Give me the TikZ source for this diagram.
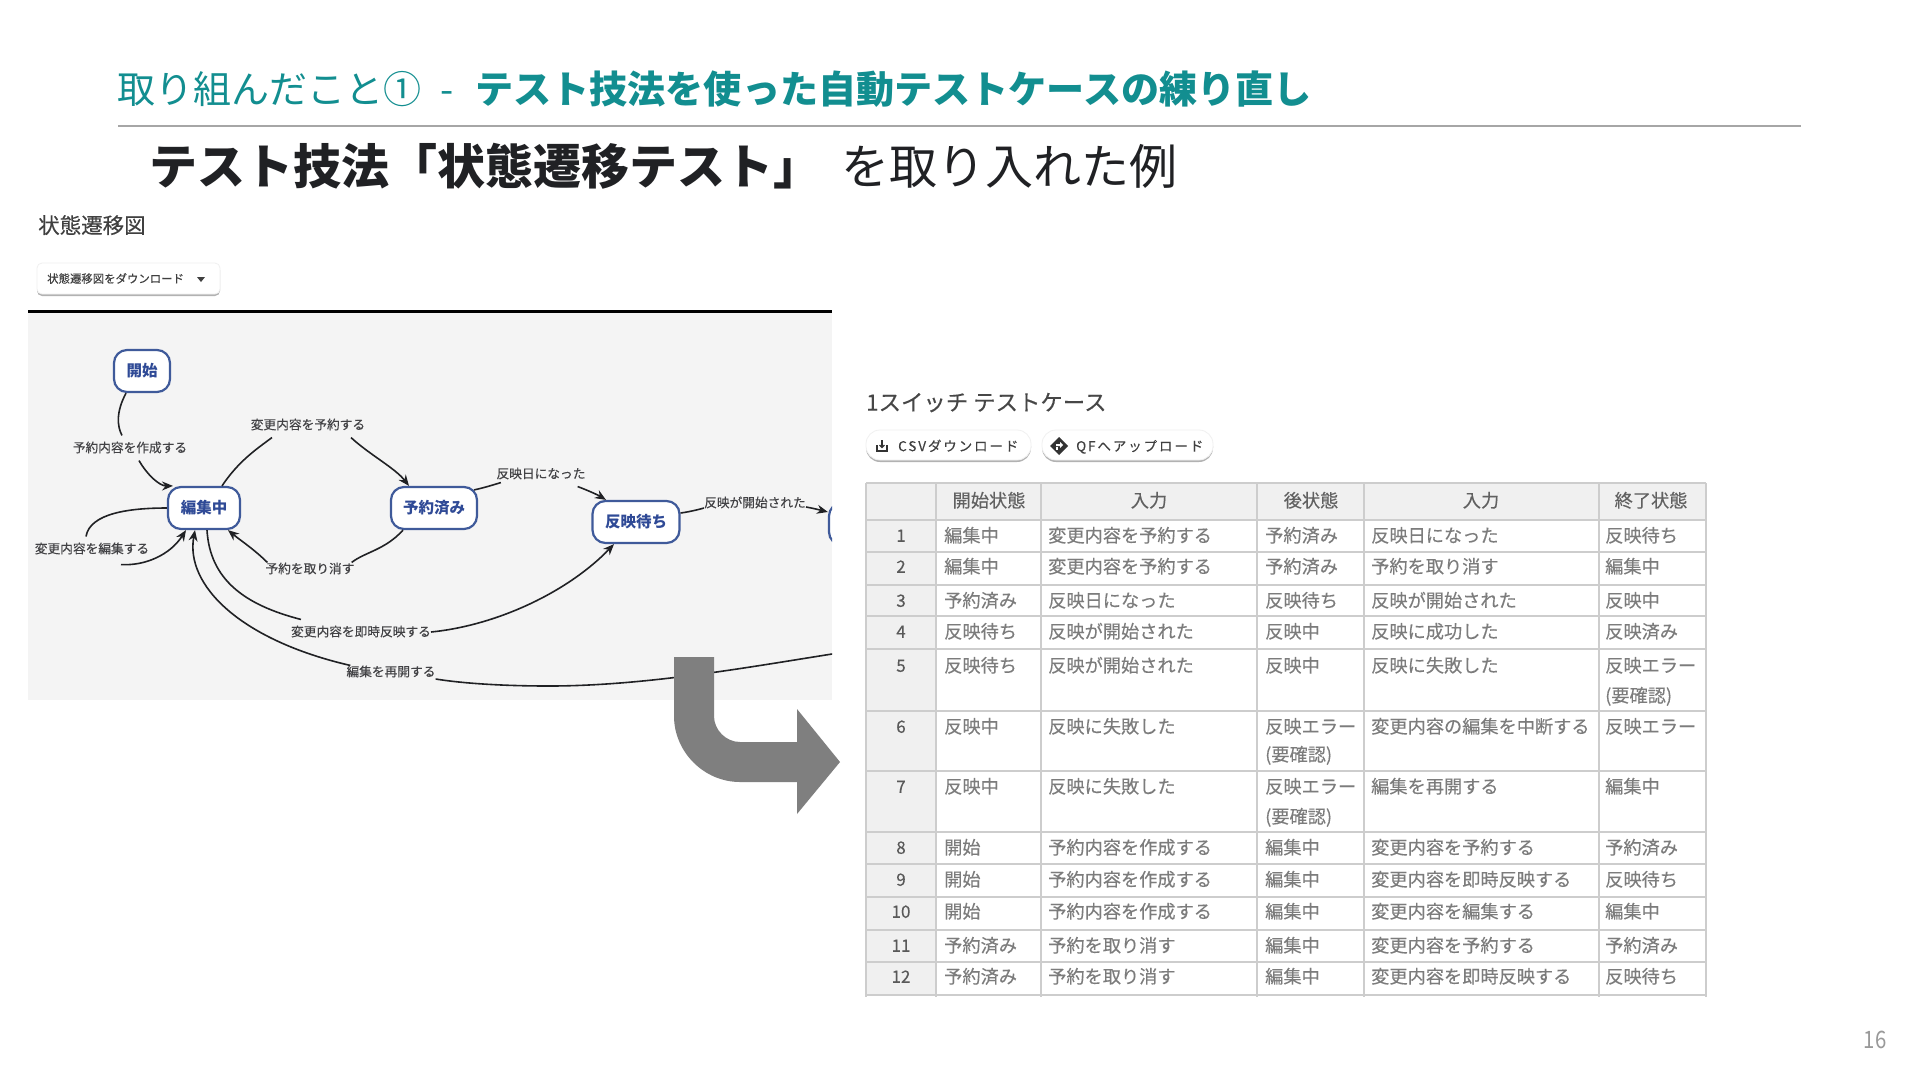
\documentclass[tikz,border=0pt]{standalone}
\usepackage{fontspec}
\setmainfont{Noto Sans CJK JP}
\newfontfamily\jpmid[FakeBold=0.25]{Noto Sans CJK JP}
\newfontfamily\jpwide[FakeBold=0.3,LetterSpace=14]{Noto Sans CJK JP}
\usetikzlibrary{arrows.meta,shadows}
\definecolor{teal1}{HTML}{128E90}
\definecolor{ink}{HTML}{202124}
\definecolor{panel}{HTML}{F4F4F4}
\definecolor{nodeblue}{HTML}{3F5A9A}
\definecolor{nodetext}{HTML}{2F4A96}
\definecolor{grid}{HTML}{CDCDCD}
\definecolor{headbg}{HTML}{F0F0F0}
\definecolor{celltext}{HTML}{7C7C7C}
\definecolor{bigarrow}{HTML}{7F7F7F}
\tikzset{
  tx/.style={font=\fontsize{#1pt}{#1pt}\selectfont, text height=#1*0.88pt, text depth=#1*0.12pt, inner sep=0pt},
  txm/.style={font=\jpmid\fontsize{#1pt}{#1pt}\selectfont, text height=#1*0.84pt, text depth=#1*0.16pt, inner sep=0pt},
  txw/.style={font=\jpwide\fontsize{#1pt}{#1pt}\selectfont, text height=#1*0.88pt, text depth=#1*0.12pt, inner sep=0pt},
  state/.style={draw=nodeblue, line width=2.2pt, fill=white, rounded corners=13pt, minimum height=42pt, text=nodetext, tx=15.5, font=\fontsize{15.5pt}{15.5pt}\selectfont\bfseries},
  elabel/.style={txm=12.7, text=ink!85, inner ysep=6pt},
  eline/.style={draw=ink, line width=1.6pt},
  earrow/.style={eline, -{Stealth[length=11pt,width=9pt]}},
  btn/.style={fill=white, draw=black!6, line width=.8pt, rounded corners=#1, drop shadow={shadow xshift=0pt,shadow yshift=-2pt,opacity=.3,fill=black}},
  cell/.style={txm=18.2, text=celltext, anchor=west},
  headcell/.style={txm=18.2, text=black!62, anchor=center},
  numcell/.style={txm=17, text=black!65, anchor=center},
}
\begin{document}
\begin{tikzpicture}[x=1pt,y=-1pt]
\useasboundingbox (0,0) rectangle (1920,1080);
\fill[white] (0,0) rectangle (1920,1080);
% heading
\node[tx=38, text=teal1, anchor=west] (title) at (117,89) {取り組んだこと①\hspace{19pt}-\hspace{22pt}{\fontsize{38.1pt}{38pt}\selectfont\bfseries テスト技法を使った自動テストケースの練り直し}};
\draw[black!35, line width=2pt] (118,126) -- (1801,126);
\node[tx=48, text=ink, anchor=west] (subtitle) at (149,166) {{\bfseries テスト技法「状態遷移テスト」}\hspace{20pt}を取り入れた例};
% left screenshot
\node[txm=21.5, text=black!75, anchor=west] (leftcap) at (38,226) {状態遷移図};
\path[btn=5pt] (37,263) rectangle (220,294);
\node[txm=11.4, text=black!75, anchor=west] (leftbtn) at (47,279) {状態遷移図をダウンロード};
\fill[black!75] (197,277) -- (205,277) -- (201,282) -- cycle;
\fill[panel] (28,312) rectangle (832,700);
\draw[black, line width=3pt] (28,311.5) -- (832,311.5);
\begin{scope}
\clip (28,312) rectangle (832,700);
\node[state, minimum width=56pt] (start) at (142,371) {開始};
\node[state, minimum width=72pt] (edit) at (204,508) {編集中};
\node[state, minimum width=86pt] (booked) at (434,508) {予約済み};
\node[state, minimum width=87pt] (waiting) at (636,522) {反映待ち};
\node[state, minimum width=88pt] (running) at (873,524) {};
\coordinate (offright) at (845,652);
\node[elabel] (l1) at (130,448) {予約内容を作成する};
\node[elabel] (l2) at (308,425) {変更内容を予約する};
\node[elabel] (l3) at (541,474) {反映日になった};
\node[elabel] (l4) at (755,503) {反映が開始された};
\node[elabel] (l5) at (92,549) {変更内容を編集する};
\node[elabel] (l6) at (310,569) {予約を取り消す};
\node[elabel] (l7) at (361,632) {変更内容を即時反映する};
\node[elabel] (l8) at (391,672) {編集を再開する};
% start -> edit
\draw[eline] ([xshift=-16pt]start.south) .. controls (116,412) and (117,426) .. ([xshift=-8pt]l1.north);
\draw[earrow] ([xshift=9pt]l1.south) .. controls (148,476) and (160,486) .. ([xshift=-31pt]edit.north);
% edit -> booked
\draw[eline] ([xshift=18pt]edit.north) .. controls (238,462) and (255,450) .. ([xshift=-36pt]l2.south);
\draw[earrow] ([xshift=43pt]l2.south) .. controls (370,455) and (395,468) .. ([xshift=-25pt]booked.north);
% booked -> waiting
\draw[eline] ([xshift=-4pt,yshift=-4pt]booked.north east) .. controls (483,488) and (493,485) .. ([xshift=4.5pt,yshift=4pt]l3.south west);
\draw[earrow] ([xshift=-8pt]l3.south east) .. controls (587,490) and (598,495) .. ([xshift=-30pt]waiting.north);
% waiting -> running
\draw[eline] ([yshift=9pt]waiting.east) .. controls (688,512) and (697,510) .. ([yshift=-5pt]l4.west);
\draw[earrow] ([yshift=-4pt]l4.east) .. controls (812,508) and (820,510) .. ([yshift=12pt]running.west);
% edit self loop
\draw[eline] (edit.west) .. controls (130,508) and (90,513) .. ([xshift=-6pt]l5.north);
\draw[earrow] ([xshift=29pt,yshift=-3pt]l5.south) .. controls (145,566) and (170,555) .. ([xshift=-18pt]edit.south);
% booked -> edit
\draw[eline] ([xshift=-31pt]booked.south) .. controls (385,550) and (365,552) .. ([xshift=-3pt,yshift=-6pt]l6.north east);
\draw[earrow] ([xshift=2pt,yshift=-6pt]l6.north west) .. controls (255,550) and (240,540) .. ([xshift=24pt]edit.south);
% edit -> waiting
\draw[eline] ([xshift=3pt]edit.south) .. controls (210,580) and (245,605) .. ([xshift=10pt]l7.north west);
\draw[earrow] (l7.east) .. controls (500,625) and (570,590) .. ([xshift=-22pt]waiting.south);
% running -> edit
\draw[eline] (offright) .. controls (760,665) and (650,686) .. (549,686) .. controls (500,686) and (460,683) .. ([yshift=-7pt]l8.east);
\draw[earrow] ([xshift=4pt,yshift=-6pt]l8.north west) .. controls (240,640) and (185,585) .. ([xshift=-9pt]edit.south);
\end{scope}
% big arrow
\fill[bigarrow] (674,657) -- (714,657) -- (714,716) .. controls (714,730) and (726,742) .. (740,742) -- (797,742) -- (797,709) -- (840,762) -- (797,814) -- (797,782) -- (740,782) .. controls (704,782) and (674,752) .. (674,716) -- cycle;
% right screenshot
\node[txm=22.4, text=black!72, anchor=west] (rightcap) at (866,403) {1スイッチ テストケース};
\path[btn=14pt] (866,430) rectangle (1031,460);
\path[btn=14pt] (1042,430) rectangle (1213,460);
\node[txw=13.5, text=black!75, anchor=west] (csv) at (898,446) {CSVダウンロード};
\node[txw=13.5, text=black!75, anchor=west] (qf) at (1076,446) {QFへアップロード};
\draw[black!80, line width=1.3pt] (877,445) -- (877,451) -- (887,451) -- (887,445);
\draw[black!80, line width=1.3pt] (882,440) -- (882,447);
\draw[black!80, line width=1.2pt] (879.5,445) -- (882,447.5) -- (884.5,445);
\fill[black!80] (1059,437) -- (1068,446) -- (1059,455) -- (1050,446) -- cycle;
\fill[white] (1056,447) rectangle (1058,450);
\fill[white] (1056,444) -- (1060,444) -- (1060,442) -- (1063,445) -- (1060,448) -- (1060,446) -- (1056,446) -- cycle;
% table
\fill[headbg] (866,483) rectangle (1706,520);
\fill[headbg] (866,520) rectangle (936,996);
\foreach \lx in {866,936,1041,1257,1364,1599,1706}
  \draw[grid, line width=1.2pt] (\lx,483) -- (\lx,997);
\foreach \ly in {483,520,552,585,616,649,711,771,832,864,897,930,962,995}
  \draw[grid, line width=1.7pt] (866,\ly) -- (1706,\ly);
\node[headcell] (h1) at (989,501) {開始状態};
\node[headcell] (h2) at (1149,501) {入力};
\node[headcell] (h3) at (1311,501) {後状態};
\node[headcell] (h4) at (1481,501) {入力};
\node[headcell] (h5) at (1651,501) {終了状態};
\foreach \r/\ry/\a/\b/\c/\d/\e in {
 1/536/編集中/変更内容を予約する/予約済み/反映日になった/反映待ち,
 2/567/編集中/変更内容を予約する/予約済み/予約を取り消す/編集中,
 3/601/予約済み/反映日になった/反映待ち/反映が開始された/反映中,
 4/632/反映待ち/反映が開始された/反映中/反映に成功した/反映済み,
 5/666/反映待ち/反映が開始された/反映中/反映に失敗した/反映エラー,
 6/727/反映中/反映に失敗した/反映エラー/変更内容の編集を中断する/反映エラー,
 7/787/反映中/反映に失敗した/反映エラー/編集を再開する/編集中,
 8/848/開始/予約内容を作成する/編集中/変更内容を予約する/予約済み,
 9/880/開始/予約内容を作成する/編集中/変更内容を即時反映する/反映待ち,
 10/912/開始/予約内容を作成する/編集中/変更内容を編集する/編集中,
 11/946/予約済み/予約を取り消す/編集中/変更内容を予約する/予約済み,
 12/977/予約済み/予約を取り消す/編集中/変更内容を即時反映する/反映待ち}{
  \node[numcell] (n\r) at (901,\ry) {\r};
  \node[cell] (a\r) at (944,\ry) {\a};
  \node[cell] (b\r) at (1048,\ry) {\b};
  \node[cell] (c\r) at (1265,\ry) {\c};
  \node[cell] (d\r) at (1371,\ry) {\d};
  \node[cell] (e\r) at (1605,\ry) {\e};
}
\node[cell] (e5x) at (1605,696) {(要確認)};
\node[cell] (c6x) at (1265,755) {(要確認)};
\node[cell] (c7x) at (1265,817) {(要確認)};
\node[tx=24, text=black!40, anchor=center, xscale=.85] (page) at (1875,1039) {16};
\end{tikzpicture}
\end{document}
